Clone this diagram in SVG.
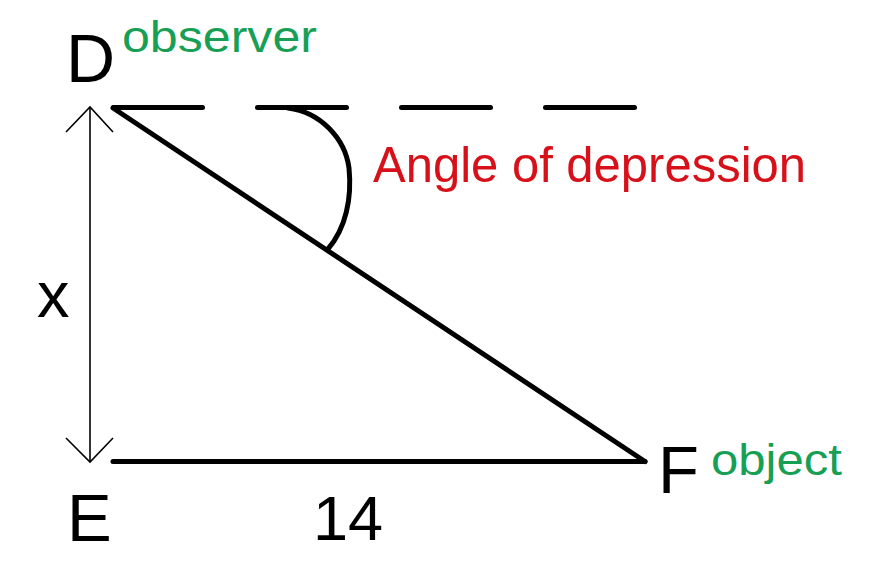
<svg xmlns="http://www.w3.org/2000/svg" width="880" height="561" viewBox="0 0 880 561">
<style>
.thick{stroke:#000;stroke-width:5;fill:none;stroke-linecap:round;stroke-linejoin:round}
.thin{stroke:#000;stroke-width:1.6;fill:none}
.lbl{font-family:"Liberation Sans",Arial,sans-serif;fill:#000}
.green{font-family:"Liberation Sans",Arial,sans-serif;fill:#17a055}
.red{font-family:"Liberation Sans",Arial,sans-serif;fill:#d7111a}
</style>
<rect width="880" height="561" fill="#fff"/>
<g id="connectors">
<line class="thick" x1="113.5" y1="107.5" x2="634.5" y2="107.5" stroke-dasharray="89 55"/>
<line class="thick" x1="113" y1="108" x2="645" y2="461.5"/>
<line class="thick" x1="113" y1="461.5" x2="645" y2="461.5"/>
<path class="thick" d="M288 108 C320 112 345 138 349 168 C352 198 346 228 328 249"/>
<line class="thin" x1="90" y1="107" x2="90" y2="462"/>
<polyline class="thin" points="66,132 90,107 113,132"/>
<polyline class="thin" points="66,438 90,462 113,438"/>
</g>
<g id="D"><text class="lbl" x="66" y="82" font-size="68">D</text><text class="green" x="122" y="52" font-size="45" textLength="195" lengthAdjust="spacingAndGlyphs">observer</text></g>
<g id="E"><text class="lbl" x="67" y="541" font-size="67">E</text></g>
<g id="F"><text class="lbl" x="658" y="493" font-size="67">F</text><text class="green" x="711" y="475" font-size="45" textLength="131" lengthAdjust="spacingAndGlyphs">object</text></g>
<g id="angle"><text class="red" x="373" y="182" font-size="50.5" textLength="433" lengthAdjust="spacingAndGlyphs">Angle of depression</text></g>
<g id="xlabel"><text class="lbl" x="37" y="317" font-size="65">x</text></g>
<g id="len"><text class="lbl" x="313" y="540" font-size="63">14</text></g>
</svg>
